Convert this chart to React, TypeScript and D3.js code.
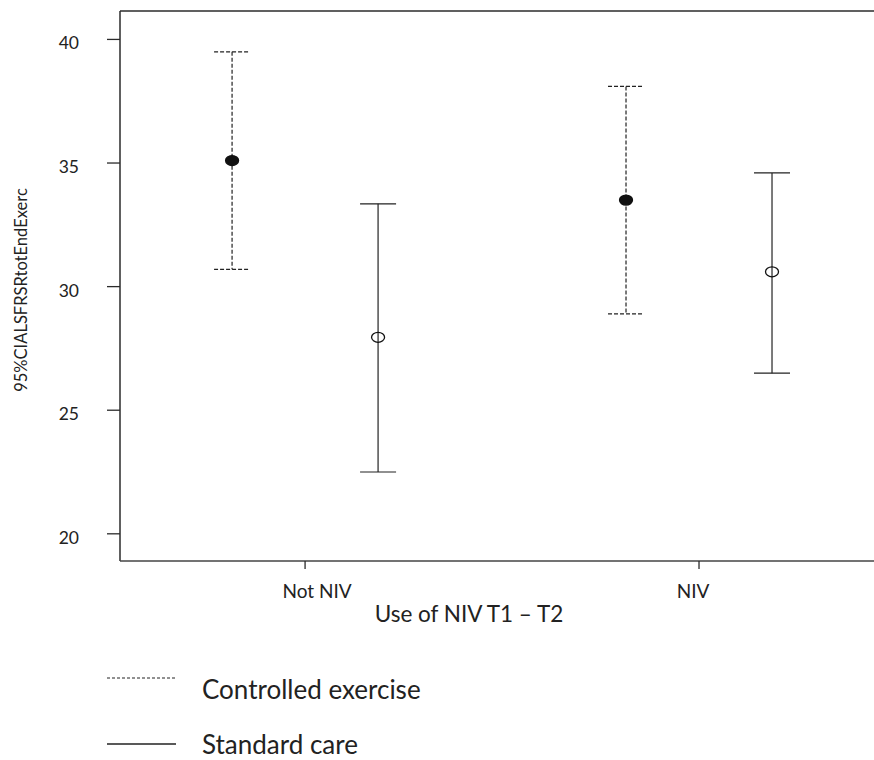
import React from "react";
import * as d3 from "d3";

// Groups on the x axis and the two treatment arms
const groups = ["Not NIV", "NIV"];
const seriesNames = ["Controlled exercise", "Standard care"];

// Means and 95% confidence limits per group
const controlledMean = [35.1, 33.5];
const controlledLower = [30.7, 28.9];
const controlledUpper = [39.5, 38.1];
const standardMean = [27.95, 30.6];
const standardLower = [22.5, 26.5];
const standardUpper = [33.35, 34.6];

const yTicks = [20, 25, 30, 35, 40];
const xTitle = "Use of NIV T1 \u2013 T2";
const yTitle = "95%CIALSFRSRtotEndExerc";

const W = 874;
const H = 760;
const plot = { left: 120, right: 874, top: 11, bottom: 561 };
const FONT = "Lato, 'Open Sans', sans-serif";
const INK = "#2b2b2b";

type Series = {
  name: string;
  mean: number[];
  lower: number[];
  upper: number[];
  dash: string | undefined;
  filled: boolean;
};

const series: Series[] = [
  { name: seriesNames[0], mean: controlledMean, lower: controlledLower, upper: controlledUpper, dash: "4,2", filled: true },
  { name: seriesNames[1], mean: standardMean, lower: standardLower, upper: standardUpper, dash: undefined, filled: false },
];

export default function App() {
  const x = d3
    .scalePoint<string>()
    .domain(groups)
    .range([plot.left, plot.right])
    .padding(0.457)
    .align(0.514);
  const dodge = d3.scalePoint<string>().domain(seriesNames).range([-73, 73]);
  const y = d3.scaleLinear().domain([18.9, 41.15]).range([plot.bottom, plot.top]);
  const capHalf = 18;

  return (
    <svg
      width={W}
      height={H}
      style={{ position: "absolute", left: 0, top: 0, background: "#fff" }}
      fontFamily={FONT}
    >
      {/* plot frame: left axis, top and bottom rules */}
      <line x1={plot.left} x2={plot.left} y1={plot.top} y2={plot.bottom} stroke={INK} strokeWidth={1.5} />
      <line x1={plot.left} x2={plot.right} y1={plot.top} y2={plot.top} stroke={INK} strokeWidth={1.5} />
      <line x1={plot.left} x2={plot.right} y1={plot.bottom} y2={plot.bottom} stroke="#444" strokeWidth={1.5} />

      {/* y axis ticks */}
      {yTicks.map((t) => (
        <g key={t}>
          <line x1={plot.left - 13} x2={plot.left} y1={y(t)} y2={y(t)} stroke={INK} strokeWidth={1.3} />
          <text x={79} y={y(t) + 10} textAnchor="end" fontSize={17.5} fill="#222">
            {t}
          </text>
        </g>
      ))}

      {/* x axis ticks */}
      {groups.map((g) => (
        <g key={g}>
          <line x1={x(g)!} x2={x(g)!} y1={plot.bottom} y2={plot.bottom + 8} stroke={INK} strokeWidth={1.3} />
          <text x={x(g)! + (g === "NIV" ? -6 : 12)} y={598} textAnchor="middle" fontSize={19} fill="#222">
            {g}
          </text>
        </g>
      ))}

      <text x={469} y={622} textAnchor="middle" fontSize={22.5} fill="#222">
        {xTitle}
      </text>
      <text transform="translate(27,290) rotate(-90)" textAnchor="middle" fontSize={16.5} fill="#222">
        {yTitle}
      </text>

      {/* error bars with means; open markers let the bar show through */}
      {series.map((s) =>
        groups.map((g, i) => {
          const cx = x(g)! + dodge(s.name)!;
          return (
            <g key={s.name + g}>
              <g stroke="#222" strokeWidth={1.2} strokeDasharray={s.dash ?? "none"}>
                <line x1={cx} x2={cx} y1={y(s.upper[i])} y2={y(s.lower[i])} />
                <line x1={cx - capHalf} x2={cx + capHalf} y1={y(s.upper[i])} y2={y(s.upper[i])} />
                <line x1={cx - capHalf} x2={cx + capHalf} y1={y(s.lower[i])} y2={y(s.lower[i])} />
              </g>
              <ellipse
                cx={cx}
                cy={y(s.mean[i])}
                rx={6.5}
                ry={5}
                fill={s.filled ? "#111" : "none"}
                stroke="#111"
                strokeWidth={1.3}
              />
            </g>
          );
        })
      )}

      {/* legend */}
      {series.map((s, i) => {
        const ly = 678 + i * 66;
        return (
          <g key={s.name}>
            <line
              x1={107}
              x2={176}
              y1={ly}
              y2={ly}
              stroke="#222"
              strokeWidth={s.dash ? 1 : 1.4}
              strokeDasharray={s.dash ? "3,2" : "none"}
            />
            <text x={202} y={699 + i * 55} fontSize={26} fill="#222">
              {s.name}
            </text>
          </g>
        );
      })}
    </svg>
  );
}
